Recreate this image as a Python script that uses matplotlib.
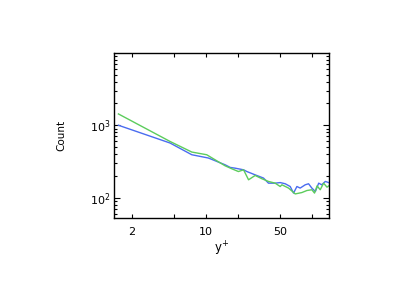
import numpy as np
import matplotlib
matplotlib.use("Agg")
import matplotlib.pyplot as plt
from matplotlib.ticker import FixedLocator, NullFormatter, LogLocator, LogFormatterSciNotation

# y+ positions and counts
blue_x = [1.50, 4.60, 7.38, 10.6, 15.2, 17.0, 18.9, 22.7, 24.4, 29.2, 35.0, 39.0,
          45.1, 50.3, 56.1, 62.5, 67.2, 72.3, 77.6, 86.6, 93.1, 100, 108, 116,
          124, 134, 144]
blue_y = [1000, 569, 392, 353, 285, 262, 256, 243, 230, 207, 187, 159,
          159, 162, 156, 143, 116, 143, 136, 151, 156, 136, 122, 159,
          151, 168, 162]

green_x = [1.50, 4.60, 7.38, 10.2, 15.2, 17.6, 20.3, 22.7, 25.3, 29.2, 33.8, 39.0,
           45.1, 50.3, 52.2, 60.3, 69.7, 80.5, 89.9, 100, 106, 112, 120, 129,
           139, 149]
green_y = [1432, 598, 427, 392, 276, 251, 230, 243, 177, 203, 183, 168,
           159, 143, 151, 136, 113, 118, 126, 129, 116, 146, 129, 159,
           140, 151]

xticks = [2, 10, 50]
xticks_minor = [5, 20, 100]

fig = plt.figure(figsize=(4.2, 2.9), dpi=100)
ax = fig.add_axes([0.272, 0.247, 0.512, 0.569])

ax.plot(blue_x, blue_y, color="#4a6cf0", lw=1.0)
ax.plot(green_x, green_y, color="#5ccc5c", lw=1.0)

ax.set_xscale("log")
ax.set_yscale("log")
ax.set_xlim(1.37, 146)
ax.set_ylim(52, 9800)

ax.xaxis.set_major_locator(FixedLocator(xticks))
ax.xaxis.set_minor_locator(FixedLocator(xticks_minor))
ax.set_xticklabels([str(t) for t in xticks])
ax.xaxis.set_minor_formatter(NullFormatter())
ax.yaxis.set_major_locator(LogLocator(base=10))
ax.yaxis.set_major_formatter(LogFormatterSciNotation())
ax.yaxis.set_minor_locator(LogLocator(base=10, subs=np.arange(2, 10)))
ax.yaxis.set_minor_formatter(NullFormatter())

ax.tick_params(which="both", direction="in", top=True, right=True, width=0.8, labelsize=8)
ax.tick_params(axis="x", which="both", length=3, pad=6)
ax.tick_params(axis="y", which="major", length=4.5, pad=3)
ax.tick_params(axis="y", which="minor", length=2.5)
for s in ax.spines.values():
    s.set_linewidth(1.0)

ax.set_xlabel("y$^{+}$", fontsize=8.5, labelpad=2.5)
ax.set_ylabel("Count", fontsize=7.5, labelpad=17)

fig.savefig("out.png", dpi=100)
